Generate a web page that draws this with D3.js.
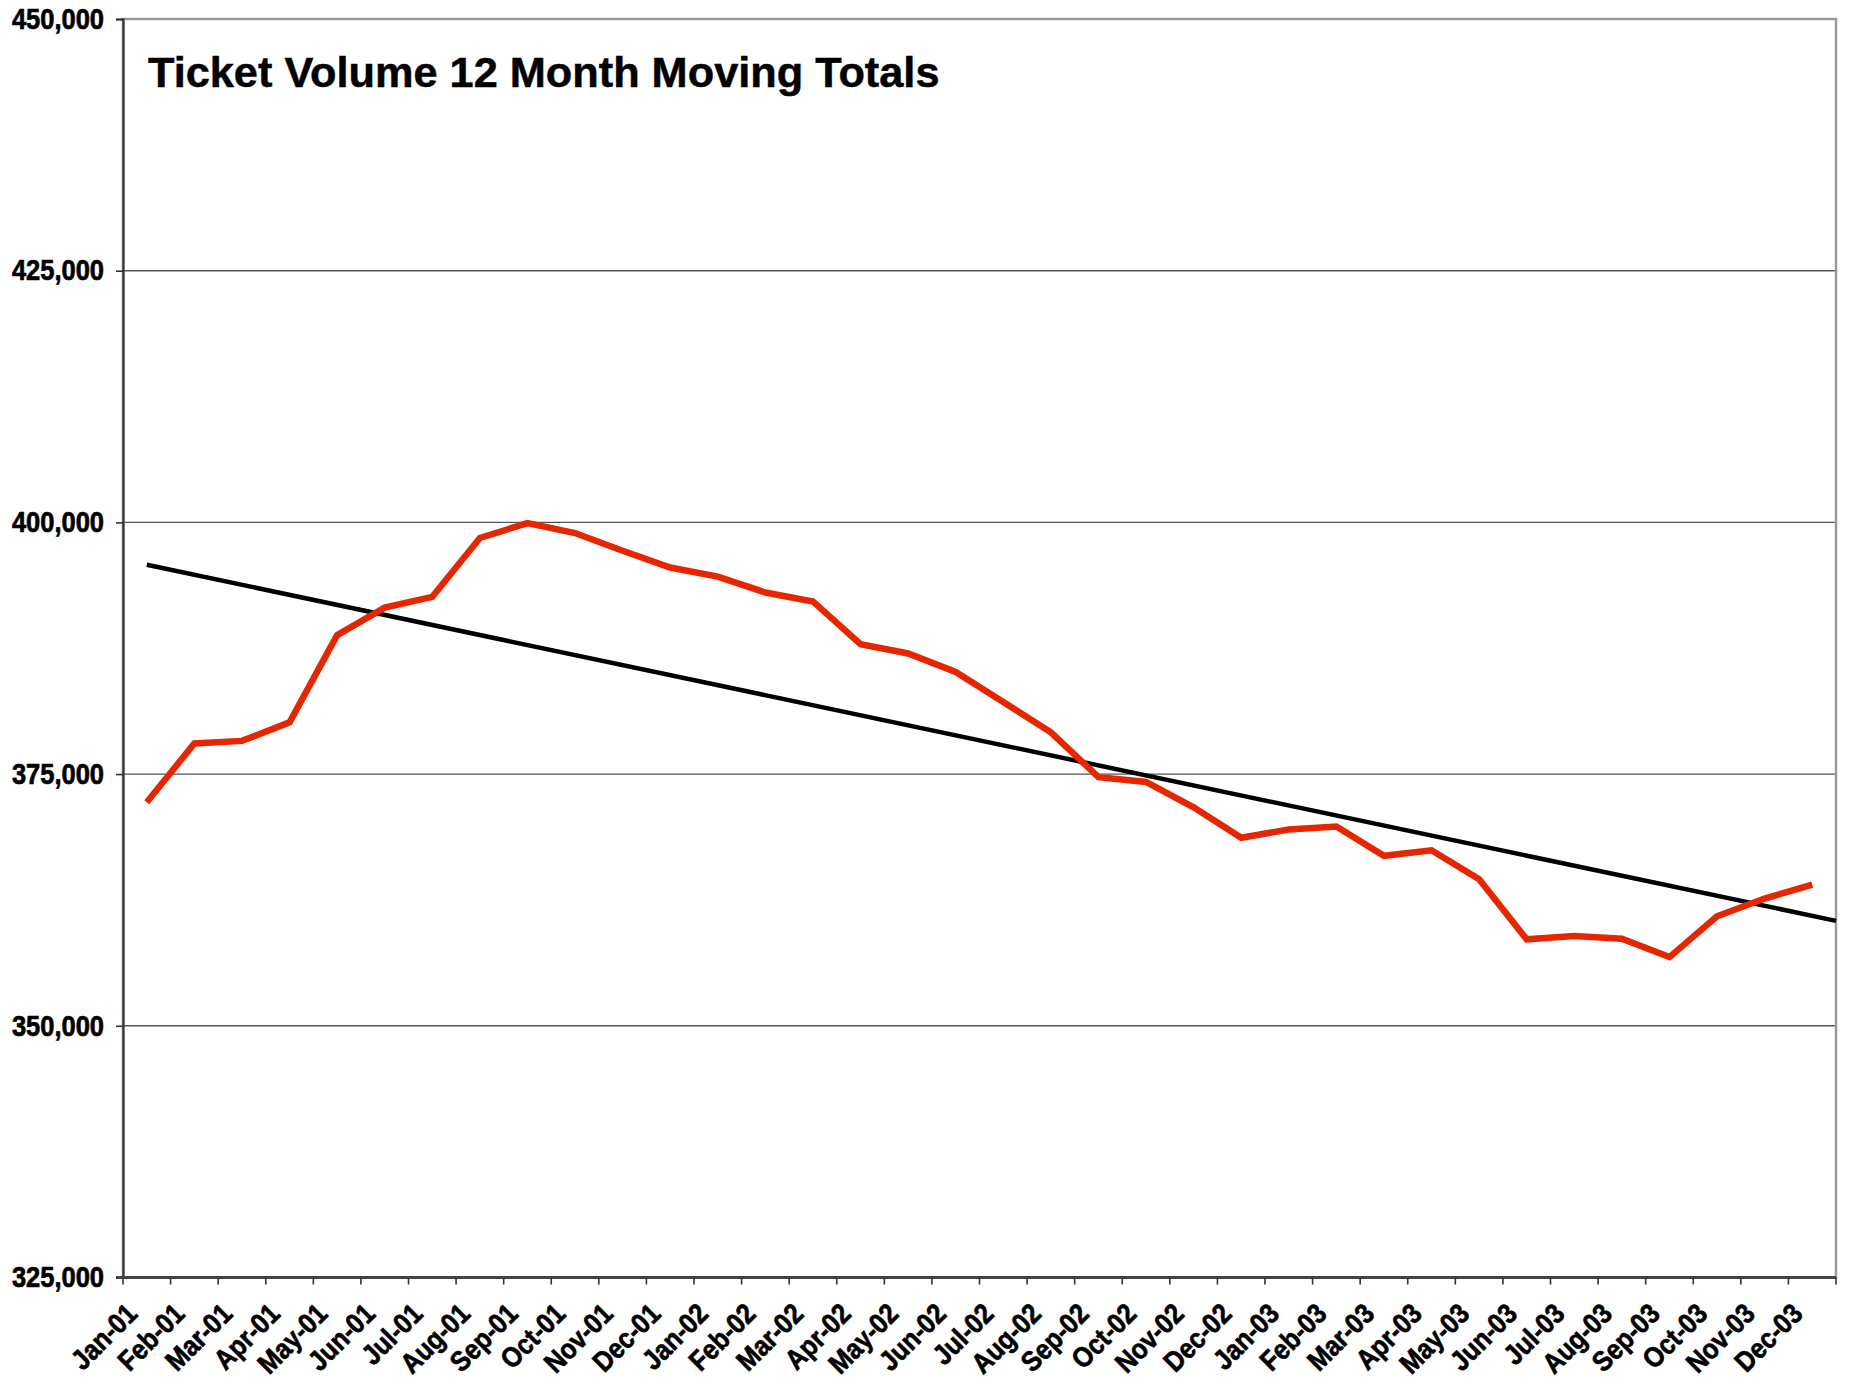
<!DOCTYPE html>
<html>
<head>
<meta charset="utf-8">
<script src="https://cdn.jsdelivr.net/npm/d3@7"></script>
<style>
  html, body { margin: 0; padding: 0; background: #fff; }
  svg { display: block; }
  text { font-family: "Liberation Sans", Arial, sans-serif; font-weight: bold; fill: #000; }
</style>
</head>
<body>
<svg id="chart" width="1853" height="1380"></svg>
<script>
const categories = ["Jan-01","Feb-01","Mar-01","Apr-01","May-01","Jun-01","Jul-01","Aug-01","Sep-01","Oct-01","Nov-01","Dec-01",
  "Jan-02","Feb-02","Mar-02","Apr-02","May-02","Jun-02","Jul-02","Aug-02","Sep-02","Oct-02","Nov-02","Dec-02",
  "Jan-03","Feb-03","Mar-03","Apr-03","May-03","Jun-03","Jul-03","Aug-03","Sep-03","Oct-03","Nov-03","Dec-03"];
const ticketTotals = [372200, 378050, 378300, 380140, 388800, 391540, 392600, 398450, 399930, 398940, 397180, 395520,
  394620, 393040, 392150, 387900, 386980, 385140, 382160, 379150, 374700, 374220, 371700, 368680,
  369500, 369800, 366880, 367430, 364550, 358590, 358930, 358650, 356820, 360880, 362640, 364030];
const yTicks = [325000, 350000, 375000, 400000, 425000, 450000];
const title = "Ticket Volume 12 Month Moving Totals";

const svg = d3.select("#chart");
const L = 123, R = 1836, T = 19, B = 1277.5;

const x = d3.scaleBand().domain(categories).range([L, R]).padding(0);
const bw = x.bandwidth();
const xi = d3.scaleLinear().domain([-0.5, categories.length - 0.5]).range([L, R]);
const y = d3.scaleLinear().domain([325000, 450000]).range([B, T]);

// gridlines
svg.append("g").selectAll("line").data(yTicks.filter(v => v > 325000 && v < 450000)).join("line")
  .attr("x1", L).attr("x2", R).attr("y1", d => y(d)).attr("y2", d => y(d))
  .attr("stroke", "#555").attr("stroke-width", 1.4);

// plot border (top / right)
svg.append("rect").attr("x", L).attr("y", T).attr("width", R - L).attr("height", B - T)
  .attr("fill", "none").attr("stroke", "#9a9a9a").attr("stroke-width", 2.5);

// y axis
const yAxis = d3.axisLeft(y).tickValues(yTicks).tickFormat(d3.format(",")).tickSize(7).tickPadding(12);
const gy = svg.append("g").attr("transform", `translate(${L},0)`).call(yAxis);
gy.select(".domain").attr("stroke", "#333").attr("stroke-width", 2.2);
gy.selectAll(".tick line").attr("stroke", "#333").attr("stroke-width", 1.6);
gy.selectAll(".tick text").attr("font-size", 25.5).attr("font-family", "Liberation Sans, Arial, sans-serif")
  .attr("font-weight", "bold").attr("fill", "#000").attr("stroke", "#000").attr("stroke-width", 0.6)
  .attr("transform", "scale(1,1.13)");

// x axis line
svg.append("line").attr("x1", L - 7).attr("x2", R).attr("y1", B).attr("y2", B)
  .attr("stroke", "#444").attr("stroke-width", 2.8);
// x ticks at category boundaries
const edges = d3.range(categories.length + 1);
svg.append("g").selectAll("line").data(edges).join("line")
  .attr("x1", d => xi(d - 0.5)).attr("x2", d => xi(d - 0.5))
  .attr("y1", B).attr("y2", B + 7)
  .attr("stroke", "#333").attr("stroke-width", 1.6);
// x labels
svg.append("g").selectAll("text").data(categories).join("text")
  .attr("transform", d => `translate(${x(d) + bw / 2 - 8},${B + 38}) rotate(-45) scale(1,1.13)`)
  .attr("text-anchor", "end").attr("font-size", 25)
  .attr("stroke", "#000").attr("stroke-width", 0.6)
  .text(d => d);

// trend line (least squares, forward 0.5 period)
const n = ticketTotals.length;
const idx = d3.range(n);
const mx = d3.mean(idx), my = d3.mean(ticketTotals);
const slope = d3.sum(idx, i => (i - mx) * (ticketTotals[i] - my)) / d3.sum(idx, i => (i - mx) ** 2);
const icpt = my - slope * mx;
const trendPts = [0, n - 0.5].map(i => [i, icpt + slope * i]);
svg.append("path").datum(trendPts)
  .attr("d", d3.line().x(d => xi(d[0])).y(d => y(d[1])))
  .attr("fill", "none").attr("stroke", "#000").attr("stroke-width", 4.5);

// data line
svg.append("path").datum(ticketTotals)
  .attr("d", d3.line().x((d, i) => x(categories[i]) + bw / 2).y(d => y(d)))
  .attr("fill", "none").attr("stroke", "#E52600").attr("stroke-width", 6.5)
  .attr("stroke-linejoin", "miter");

// title
svg.append("text").attr("x", 148).attr("y", 87).attr("font-size", 43.3)
  .attr("stroke", "#000").attr("stroke-width", 0.5).text(title);
</script>
</body>
</html>
